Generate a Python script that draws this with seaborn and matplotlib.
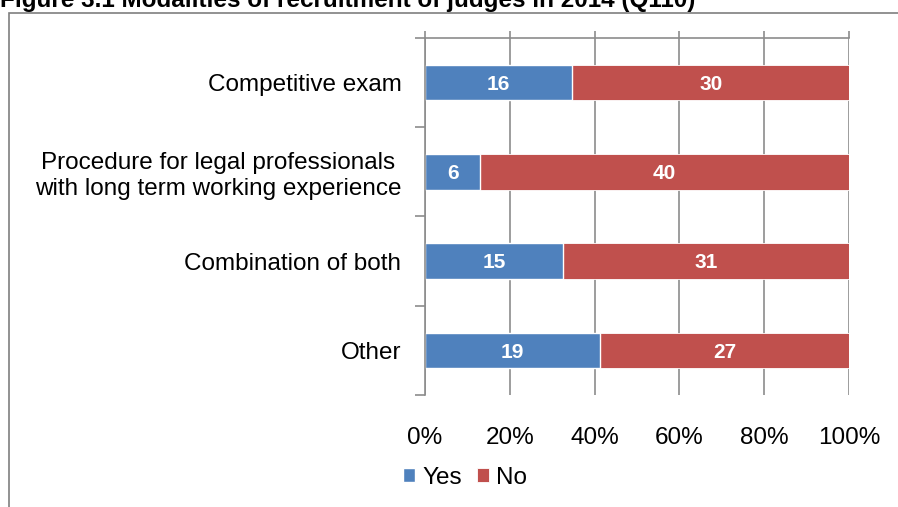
import matplotlib
matplotlib.use("Agg")
import matplotlib.pyplot as plt
import seaborn as sns
import pandas as pd
from matplotlib.patches import Rectangle
from matplotlib.ticker import FixedLocator, PercentFormatter

categories = ["Competitive exam",
              "Procedure for legal professionals\nwith long term working experience",
              "Combination of both",
              "Other"]
yes_counts = [16, 6, 15, 19]
no_counts = [30, 40, 31, 27]

BLUE = "#4F81BD"
RED = "#C0504D"
GRID = "#8C8C8C"

df = pd.DataFrame({"category": categories, "yes": yes_counts, "no": no_counts})
df["total"] = df["yes"] + df["no"]
df["yes_pct"] = df["yes"] / df["total"] * 100
df["all_pct"] = 100.0

sns.set_style("white")
plt.rcParams["font.family"] = ["Liberation Sans", "DejaVu Sans"]
plt.rcParams["text.color"] = "black"
plt.rcParams["xtick.labelcolor"] = "black"
plt.rcParams["ytick.labelcolor"] = "black"

fig = plt.figure(figsize=(8.98, 5.07), dpi=100)
ax = fig.add_axes([425 / 898, 1 - 395 / 507, 424 / 898, 357 / 507])

# stacked bars: full width red (No) underneath, blue (Yes) on top
sns.barplot(data=df, x="all_pct", y="category", color=RED, orient="h",
            width=0.4, saturation=1, ax=ax, label="No")
sns.barplot(data=df, x="yes_pct", y="category", color=BLUE, orient="h",
            width=0.4, saturation=1, ax=ax, label="Yes")

red_bars = ax.containers[0]
blue_bars = ax.containers[1]
for bar in red_bars:
    bar.set_edgecolor("white")
    bar.set_linewidth(0.6)
# labels centred on the No part
for bar, yb, n in zip(red_bars, blue_bars, df["no"]):
    xc = (yb.get_width() + 100) / 2
    ax.text(xc, bar.get_y() + bar.get_height() / 2 + 0.02, str(n), color="white",
            fontsize=15, fontweight="bold", ha="center", va="center")
for bar, y in zip(blue_bars, df["yes"]):
    ax.text(bar.get_width() / 2, bar.get_y() + bar.get_height() / 2 + 0.02, str(y),
            color="white", fontsize=15, fontweight="bold", ha="center", va="center")

ax.set_xlim(0, 100)
ax.set_ylim(3.5, -0.5)
ax.set_xticks([0, 20, 40, 60, 80, 100])
ax.xaxis.set_major_formatter(PercentFormatter(decimals=0))
ax.grid(axis="x", color=GRID, linewidth=1.2)
ax.set_axisbelow(True)
ax.set_xlabel("")
ax.set_ylabel("")
if ax.get_legend() is not None:
    ax.get_legend().remove()

for side in ["right", "bottom"]:
    ax.spines[side].set_visible(False)
for side in ["top", "left"]:
    ax.spines[side].set_color(GRID)
    ax.spines[side].set_linewidth(1.2)

ax.tick_params(axis="x", top=True, bottom=False, labeltop=False, labelbottom=True,
               direction="out", length=5, color=GRID, width=1.2, pad=18,
               labelsize=17.5)
ax.tick_params(axis="y", which="major", length=0, pad=17, labelsize=17.5)
ax.yaxis.set_minor_locator(FixedLocator([-0.5, 0.5, 1.5, 2.5, 3.5]))
ax.tick_params(axis="y", which="minor", left=True, length=7, color=GRID, width=1.2)
for lbl in ax.get_yticklabels():
    lbl.set_multialignment("center")

handles, labels = ax.get_legend_handles_labels()
order = [labels.index("Yes"), labels.index("No")]
fig.legend([handles[i] for i in order], [labels[i] for i in order],
           loc="center", bbox_to_anchor=(465 / 898, 1 - 478 / 507), ncol=2,
           frameon=False, fontsize=17.5, handlelength=0.5, handleheight=0.5,
           handletextpad=0.3, columnspacing=0.6)

# outer chart border
fig.patches.append(Rectangle((8.5 / 898, -0.05), 1.2, 1 - 12.5 / 507 + 0.05,
                             transform=fig.transFigure, fill=False,
                             edgecolor="#7F7F7F", linewidth=1.2, clip_on=False))

fig.text(0.0, 1 - 7 / 507, "Figure 3.1 Modalities of recruitment of judges in 2014 (Q110)",
         fontsize=17.5, fontweight="bold", ha="left", va="baseline")

fig.savefig("out.png", dpi=100)
